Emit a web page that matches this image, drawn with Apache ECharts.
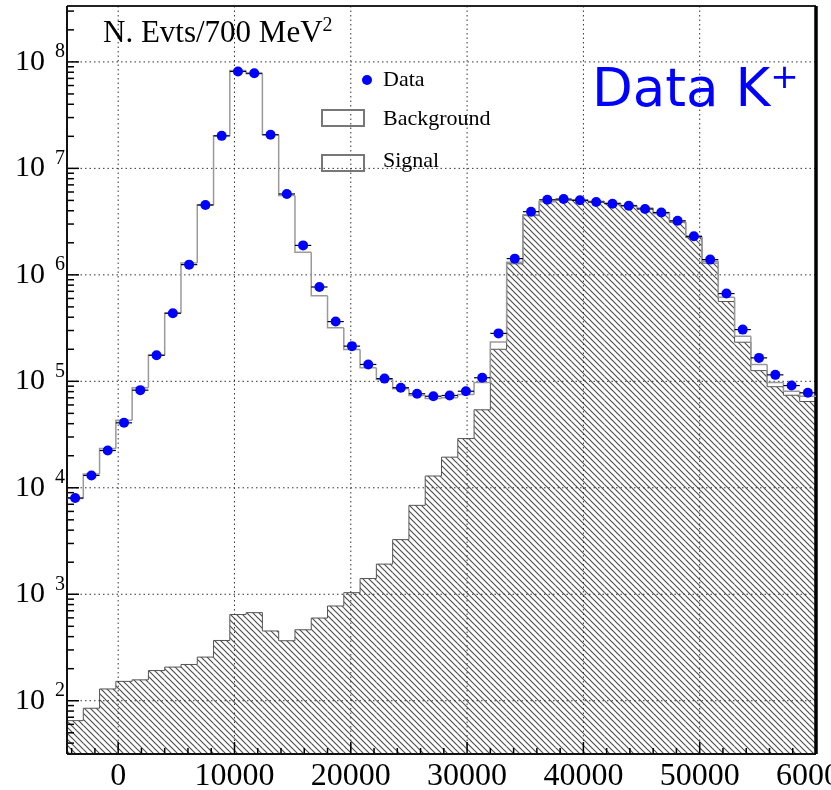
<!DOCTYPE html>
<html lang="en">
<head>
<meta charset="UTF-8">
<title>Data K+</title>
<script src="https://cdn.jsdelivr.net/npm/echarts@6/dist/echarts.min.js"></script>
<style>
	html,body{margin:0;padding:0;background:#fff;}
	#main{width:831px;height:790px;}
</style>
</head>
<body>
<div id="main"></div>
<script>
	// binning: 46 bins of 1400 starting at -4400
	var binLo = -4400, binW = 1400;
	var xMin = -4400, xMax = 60000;
	var yMin = 31.6, yMax = 3.35e8;

	// data points (blue)
	var dataVals = [8020, 13060, 22390, 40740, 82600, 175800, 436500, 1247000, 4530000, 20200000,
		81300000, 78300000, 20700000, 5750000, 1890000, 769000, 364000, 214000, 144000, 106000,
		87100, 76400, 72400, 73600, 80700, 108000, 282000, 1420000, 3920000, 5070000,
		5150000, 5010000, 4830000, 4660000, 4460000, 4150000, 3850000, 3220000, 2300000, 1390000,
		667000, 306000, 166000, 115000, 91200, 78000];
	// signal + background step line
	var totalMC = [7940, 13490, 23440, 43150, 87100, 175800, 436500, 1290000, 4530000, 20200000,
		83200000, 77600000, 20700000, 5570000, 1630000, 638000, 318000, 199000, 134000, 104000,
		85100, 73600, 68900, 70000, 75200, 97700, 234000, 1310000, 3670000, 4900000,
		5070000, 5070000, 4900000, 4730000, 4490000, 4240000, 3800000, 3160000, 2290000, 1340000,
		617000, 265000, 144000, 97700, 80700, 72400];
	// background (hatched)
	var background = [65, 85, 129, 152, 157, 192, 207, 219, 257, 368,
		645, 672, 452, 366, 464, 598, 776, 1035, 1405, 1920,
		3260, 6840, 12900, 19400, 29000, 54000, 200000, 1270000, 3600000, 4850000,
		5000000, 5000000, 4850000, 4680000, 4440000, 4200000, 3750000, 3100000, 2240000, 1290000,
		562000, 233000, 126000, 89000, 74000, 64600];

	var xTickVals = [0, 10000, 20000, 30000, 40000, 50000, 60000];
	var yTickVals = [1e2, 1e3, 1e4, 1e5, 1e6, 1e7, 1e8];

	var serif = 'Liberation Serif';

	// minor ticks
	var yMinor = [];
	for (var d = 1; d <= 8; d++) {
		for (var k = 2; k <= 9; k++) {
			var mv = k * Math.pow(10, d);
			if (mv > yMin && mv < yMax) yMinor.push(mv);
		}
	}
	var xMinor = [];
	for (var xm = -4000; xm < 60000; xm += 2000) {
		if (xm % 10000 !== 0) xMinor.push(xm);
	}

	// hatch pattern
	var hatch = document.createElement('canvas');
	hatch.width = 6; hatch.height = 6;
	var hc = hatch.getContext('2d');
	hc.strokeStyle = '#505050';
	hc.lineWidth = 1.2;
	hc.beginPath();
	hc.moveTo(-1, -1); hc.lineTo(7, 7);
	hc.moveTo(-1, 5); hc.lineTo(1, 7);
	hc.moveTo(5, -1); hc.lineTo(7, 1);
	hc.stroke();

	function stepItems(arr, firstPrev) {
		var out = [];
		for (var i = 0; i < arr.length; i++) {
			var x0 = binLo + i * binW;
			out.push([x0, x0 + binW, arr[i], i === 0 ? firstPrev : arr[i - 1]]);
		}
		return out;
	}
	var bkgItems = stepItems(background, yMin);
	var totItems = stepItems(totalMC, totalMC[0]);
	var dataPts = [], errItems = [];
	for (var i = 0; i < dataVals.length; i++) {
		var x0 = binLo + i * binW;
		dataPts.push([x0 + binW / 2, dataVals[i]]);
		errItems.push([x0, x0 + binW, dataVals[i]]);
	}

	function renderBkg(params, api) {
		var x0 = api.value(0), x1 = api.value(1), v = api.value(2), pv = api.value(3);
		var tl = api.coord([x0, v]), br = api.coord([x1, yMin]), p = api.coord([x0, pv]);
		return {
			type: 'group',
			children: [
				{type: 'rect', shape: {x: tl[0], y: tl[1], width: br[0] - tl[0], height: br[1] - tl[1]},
					style: {fill: {image: hatch, repeat: 'repeat'}}},
				{type: 'polyline', shape: {points: [[p[0], p[1]], [tl[0], tl[1]], [br[0], tl[1]]]},
					style: {stroke: '#555', lineWidth: 1, fill: null}}
			]
		};
	}

	function renderStep(params, api) {
		var x0 = api.value(0), x1 = api.value(1), v = api.value(2), pv = api.value(3);
		var a = api.coord([x0, pv]), b = api.coord([x0, v]), c = api.coord([x1, v]);
		return {type: 'polyline', shape: {points: [a, b, c]},
			style: {stroke: '#9a9a9a', lineWidth: 1.5, fill: null}};
	}

	function renderErr(params, api) {
		var a = api.coord([api.value(0), api.value(2)]), b = api.coord([api.value(1), api.value(2)]);
		return {type: 'line', shape: {x1: a[0], y1: a[1], x2: b[0], y2: b[1]},
			style: {stroke: '#000', lineWidth: 1.2}};
	}

	function renderDecor(params, api) {
		var lb = api.coord([xMin, yMin]), rt = api.coord([xMax, yMax]);
		var L = lb[0], B = lb[1], R = rt[0], T = rt[1];
		var kids = [];
		function seg(x1, y1, x2, y2, st) {
			kids.push({type: 'line', shape: {x1: x1, y1: y1, x2: x2, y2: y2}, style: st});
		}
		function dot() { return {stroke: '#333', lineWidth: 1, lineDash: [1.5, 3]}; }
		function tk() { return {stroke: '#000', lineWidth: 1.5}; }
		xTickVals.forEach(function (v) {
			var x = api.coord([v, yMin])[0];
			if (x > L + 2 && x < R - 2) seg(x, T, x, B, dot());
			seg(x, B, x, B - 12, tk());
		});
		yTickVals.forEach(function (v) {
			var y = api.coord([xMin, v])[1];
			seg(L, y, R, y, dot());
			seg(L, y, L + 12, y, tk());
		});
		xMinor.forEach(function (v) {
			var x = api.coord([v, yMin])[0];
			seg(x, B, x, B - 6, tk());
		});
		yMinor.forEach(function (v) {
			var y = api.coord([xMin, v])[1];
			seg(L, y, L + 7, y, tk());
		});
		seg(L, T, R, T, {stroke: '#222', lineWidth: 2});
		seg(L, B, R, B, {stroke: '#111', lineWidth: 2});
		seg(L, T, L, B, {stroke: '#111', lineWidth: 2});
		seg(R, T, R, B, {stroke: '#000', lineWidth: 3.5});
		return {type: 'group', children: kids};
	}

	// empty legend box drawn as a bordered text box
	function legendBox(x, y) {
		return {type: 'text', x: x, y: y, z: 10, style: {
			text: ' ', width: 42, height: 16, padding: 0, align: 'left', verticalAlign: 'top',
			borderColor: '#777', borderWidth: 1, backgroundColor: 'transparent', fill: '#fff'
		}};
	}

	var myChart = echarts.init(document.getElementById('main'));
	var option = {
		animation: false,
		grid: {left: 67, right: 15, top: 6, bottom: 36, containLabel: false, outerBoundsMode: 'none'},
		xAxis: {
			type: 'value', min: xMin, max: xMax,
			axisLine: {show: false}, axisTick: {show: false}, splitLine: {show: false},
			axisLabel: {customValues: xTickVals, fontFamily: serif, fontSize: 32, color: '#000', margin: 7,
				formatter: function (v) { return String(v); }}
		},
		yAxis: {
			type: 'log', logBase: 10, min: yMin, max: yMax,
			axisLine: {show: false}, axisTick: {show: false}, splitLine: {show: false},
			axisLabel: {
				customValues: yTickVals, margin: 2,
				formatter: function (v) {
					return '{b|10}{e|' + Math.round(Math.log10(v)) + '}';
				},
				rich: {
					b: {fontFamily: serif, fontSize: 30, lineHeight: 40, color: '#000'},
					e: {fontFamily: serif, fontSize: 20, lineHeight: 20, color: '#000', verticalAlign: 'top', padding: [0, 0, 0, 10]}
				}
			}
		},
		graphic: [
			{type: 'text', x: 103, y: 34, z: 10, style: {
				text: '{a|N. Evts/700 MeV}{s|2}', verticalAlign: 'middle',
				rich: {
					a: {fontFamily: serif, fontSize: 31, lineHeight: 36, fill: '#000'},
					s: {fontFamily: serif, fontSize: 20, lineHeight: 26, verticalAlign: 'top', fill: '#000'}
				}
			}},
			{type: 'text', x: 592, y: 92, z: 10, style: {
				text: '{a|Data K}{s|+}', verticalAlign: 'middle',
				rich: {
					a: {fontFamily: 'DejaVu Sans', fontSize: 53, lineHeight: 60, fill: '#0000ff'},
					s: {fontFamily: 'DejaVu Sans', fontSize: 34, lineHeight: 50, verticalAlign: 'top', fill: '#0000ff'}
				}
			}},
			{type: 'circle', z: 10, shape: {cx: 367, cy: 80, r: 5}, style: {fill: '#0000ff'}},
			{type: 'text', x: 383, y: 80, z: 10, style: {text: 'Data', font: '22px "Liberation Serif"', fill: '#000', verticalAlign: 'middle'}},
			legendBox(322, 110),
			{type: 'text', x: 383, y: 119, z: 10, style: {text: 'Background', font: '22px "Liberation Serif"', fill: '#000', verticalAlign: 'middle'}},
			legendBox(322, 155),
			{type: 'text', x: 383, y: 161, z: 10, style: {text: 'Signal', font: '22px "Liberation Serif"', fill: '#000', verticalAlign: 'middle'}}
		],
		series: [
			{name: 'Background', type: 'custom', z: 1, renderItem: renderBkg, data: bkgItems,
				encode: {x: [0, 1], y: [2, 3]}},
			{name: 'Grid', type: 'custom', z: 2, renderItem: renderDecor, data: [[0, 1000]],
				encode: {x: 0, y: 1}},
			{name: 'Signal', type: 'custom', z: 3, renderItem: renderStep, data: totItems,
				encode: {x: [0, 1], y: [2, 3]}},
			{name: 'Err', type: 'custom', z: 4, renderItem: renderErr, data: errItems,
				encode: {x: [0, 1], y: 2}},
			{name: 'Data', type: 'scatter', z: 5, symbol: 'circle', symbolSize: 10,
				itemStyle: {color: '#0000ff', opacity: 1}, data: dataPts}
		]
	};
	myChart.setOption(option);
</script>
</body>
</html>
